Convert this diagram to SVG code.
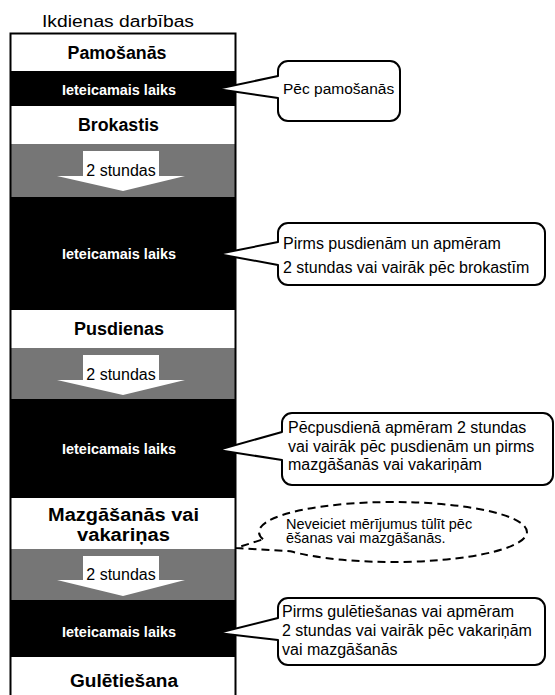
<svg xmlns="http://www.w3.org/2000/svg" width="555" height="695" viewBox="0 0 555 695">
<style>
.title{font-family:"Liberation Sans",Arial,sans-serif;font-size:16px;fill:#000}
.lbl{font-family:"Liberation Sans",Arial,sans-serif;font-size:18px;font-weight:bold;fill:#000;text-anchor:middle}
.rec{font-family:"Liberation Sans",Arial,sans-serif;font-size:14.5px;font-weight:bold;fill:#fff;text-anchor:middle}
.hrs{font-family:"Liberation Sans",Arial,sans-serif;font-size:16px;fill:#000;text-anchor:middle}
.co{font-family:"Liberation Sans",Arial,sans-serif;font-size:16px;fill:#000}
.note{font-family:"Liberation Sans",Arial,sans-serif;font-size:14.5px;fill:#000}
.bubble{fill:#fff;stroke:#000;stroke-width:2;stroke-linejoin:round}
.dash{fill:#fff;stroke:#000;stroke-width:2;stroke-dasharray:8 5}
.black{fill:#000}
.gray{fill:#767676}
.arrow{fill:#fff}
</style>
<text class="title" x="42" y="26.5" textLength="152" lengthAdjust="spacingAndGlyphs">Ikdienas darbības</text>

<g id="column">
<rect class="black" x="10" y="71" width="226" height="35"/>
<rect class="gray" x="10" y="144" width="226" height="53"/>
<rect class="black" x="10" y="197" width="226" height="113"/>
<rect class="gray" x="10" y="348" width="226" height="51"/>
<rect class="black" x="10" y="399" width="226" height="99"/>
<rect class="gray" x="10" y="549" width="226" height="51"/>
<rect class="black" x="10" y="600" width="226" height="57"/>
<rect x="10.5" y="33.5" width="225" height="680" fill="none" stroke="#000" stroke-width="2"/>
</g>

<g id="wake"><text class="lbl" x="117" y="59" textLength="99" lengthAdjust="spacingAndGlyphs">Pamošanās</text></g>
<g id="rec1"><text class="rec" x="119" y="95" textLength="114" lengthAdjust="spacingAndGlyphs">Ieteicamais laiks</text></g>
<g id="breakfast"><text class="lbl" x="118.5" y="131" textLength="81" lengthAdjust="spacingAndGlyphs">Brokastis</text></g>
<g id="rec2"><text class="rec" x="119" y="259" textLength="114" lengthAdjust="spacingAndGlyphs">Ieteicamais laiks</text></g>
<g id="lunch"><text class="lbl" x="119" y="335" textLength="90" lengthAdjust="spacingAndGlyphs">Pusdienas</text></g>
<g id="rec3"><text class="rec" x="119" y="454" textLength="114" lengthAdjust="spacingAndGlyphs">Ieteicamais laiks</text></g>
<g id="dinner">
<text class="lbl" x="123.5" y="521" textLength="151" lengthAdjust="spacingAndGlyphs">Mazgāšanās vai</text>
<text class="lbl" x="123.5" y="541" textLength="93" lengthAdjust="spacingAndGlyphs">vakariņas</text>
</g>
<g id="rec4"><text class="rec" x="119" y="637" textLength="114" lengthAdjust="spacingAndGlyphs">Ieteicamais laiks</text></g>
<g id="bed"><text class="lbl" x="124" y="687" textLength="108" lengthAdjust="spacingAndGlyphs">Gulētiešana</text></g>

<g id="connectors">
<path class="arrow" d="M83,151 H159 V176 H185 L123,191 L57,176 H83 Z"/>
<text class="hrs" x="121" y="176">2 stundas</text>
<path class="arrow" d="M83,355 H159 V380 H185 L123,395 L57,380 H83 Z"/>
<text class="hrs" x="121" y="380">2 stundas</text>
<path class="arrow" d="M83,556 H159 V580 H185 L123,596 L57,580 H83 Z"/>
<text class="hrs" x="121" y="580">2 stundas</text>
</g>

<g id="callout1">
<path class="bubble" d="M288,61 H390 A10,10 0 0 1 400,71 V111 A10,10 0 0 1 390,121 H288 A10,10 0 0 1 278,111 V98 L217,89 L278,76 V71 A10,10 0 0 1 288,61 Z"/>
<text class="co" x="283" y="94" style="font-size:15.5px">Pēc pamošanās</text>
</g>

<g id="callout2">
<path class="bubble" d="M288,223 H535 A10,10 0 0 1 545,233 V275 A10,10 0 0 1 535,285 H288 A10,10 0 0 1 278,275 V265 L218,254 L278,242 V233 A10,10 0 0 1 288,223 Z"/>
<text class="co" x="283" y="249">Pirms pusdienām un apmēram</text>
<text class="co" x="283" y="273">2 stundas vai vairāk pēc brokastīm</text>
</g>

<g id="callout3">
<path class="bubble" d="M292,413 H543 A10,10 0 0 1 553,423 V475 A10,10 0 0 1 543,485 H292 A10,10 0 0 1 282,475 V460 L218,450 L282,432 V423 A10,10 0 0 1 292,413 Z"/>
<text class="co" x="288" y="433">Pēcpusdienā apmēram 2 stundas</text>
<text class="co" x="288" y="452">vai vairāk pēc pusdienām un pirms</text>
<text class="co" x="288" y="470">mazgāšanās vai vakariņām</text>
</g>

<g id="note">
<path class="dash" d="M263,539.3 A134,30 0 1 1 290.4,551.3 L236,548 Z"/>
<text class="note" x="286" y="528.5">Neveiciet mērījumus tūlīt pēc</text>
<text class="note" x="286" y="542.5">ēšanas vai mazgāšanās.</text>
</g>

<g id="callout4">
<path class="bubble" d="M288,598 H535 A10,10 0 0 1 545,608 V655 A10,10 0 0 1 535,665 H288 A10,10 0 0 1 278,655 V640 L218,633 L278,618 V608 A10,10 0 0 1 288,598 Z"/>
<text class="co" x="282" y="617">Pirms gulētiešanas vai apmēram</text>
<text class="co" x="282" y="636">2 stundas vai vairāk pēc vakariņām</text>
<text class="co" x="282" y="655">vai mazgāšanās</text>
</g>
</svg>
